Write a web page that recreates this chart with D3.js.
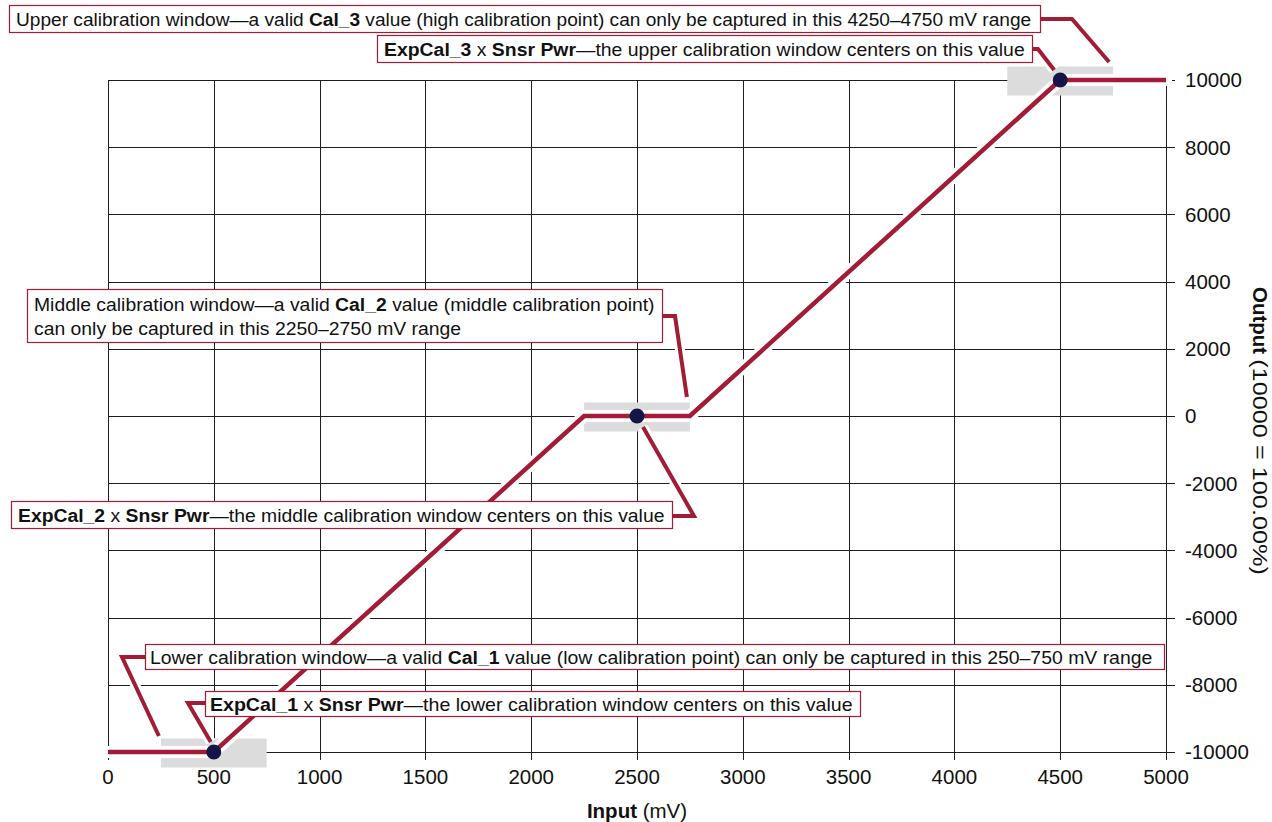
<!DOCTYPE html>
<html>
<head>
<meta charset="utf-8">
<script src="https://cdn.jsdelivr.net/npm/d3@7"></script>
<style>
  body { margin: 0; background: #fff; }
  svg { display: block; font-family: "Liberation Sans", Arial, Helvetica, sans-serif; }
</style>
</head>
<body>
<svg id="chart" width="1272" height="822"></svg>
<script>
// Axis ticks
const inputTicks = [0, 500, 1000, 1500, 2000, 2500, 3000, 3500, 4000, 4500, 5000];
const outputTicks = [-10000, -8000, -6000, -4000, -2000, 0, 2000, 4000, 6000, 8000, 10000];

// Transfer curve: input (mV) -> output counts
const transferInput = [0, 500, 2250, 2750, 4500, 5000];
const transferOutput = [-10000, -10000, 0, 0, 10000, 10000];

// Calibration points (ExpCal_n x Snsr Pwr) and their capture windows
const calInput = [500, 2500, 4500];
const calOutput = [-10000, 0, 10000];
const windowLow = [250, 2250, 4250];
const windowHigh = [750, 2750, 4750];

// Callout texts; **...** marks bold runs
const calloutText = [
  ["Upper calibration window\u2014a valid **Cal_3** value (high calibration point) can only be captured in this 4250\u20134750 mV range"],
  ["**ExpCal_3** x **Snsr Pwr**\u2014the upper calibration window centers on this value"],
  ["Middle calibration window\u2014a valid **Cal_2** value (middle calibration point)",
   "can only be captured in this 2250\u20132750 mV range"],
  ["**ExpCal_2** x **Snsr Pwr**\u2014the middle calibration window centers on this value"],
  ["Lower calibration window\u2014a valid **Cal_1** value (low calibration point) can only be captured in this 250\u2013750 mV range"],
  ["**ExpCal_1** x **Snsr Pwr**\u2014the lower calibration window centers on this value"]
];

const RED = "#a21c36";
const DOT = "#15154a";
const GREY = "#dcdcdc";
const GRID = "#1e1e1e";
const AXIS_FONT = 20.5;

const svg = d3.select("#chart");
const x = d3.scaleLinear().domain([0, 5000]).range([108, 1166]);
const y = d3.scaleLinear().domain([-10000, 10000]).range([752, 80]);
const px = v => Math.round(v) + 0.5;

// Grid + ticks
const grid = svg.append("g").attr("shape-rendering", "crispEdges");
grid.selectAll("line.v").data(inputTicks).join("line")
  .attr("x1", d => px(x(d))).attr("x2", d => px(x(d)))
  .attr("y1", y(10000)).attr("y2", y(-10000) + 8)
  .attr("stroke", GRID).attr("stroke-width", 1);
grid.selectAll("line.h").data(outputTicks).join("line")
  .attr("y1", d => px(y(d))).attr("y2", d => px(y(d)))
  .attr("x1", x(0)).attr("x2", x(5000) + 9)
  .attr("stroke", GRID).attr("stroke-width", 1);

// Tick labels
svg.append("g").selectAll("text").data(inputTicks).join("text")
  .attr("x", d => x(d)).attr("y", 784)
  .attr("text-anchor", "middle").attr("font-size", AXIS_FONT).attr("fill", "#111")
  .text(d => d);
svg.append("g").selectAll("text").data(outputTicks).join("text")
  .attr("x", x(5000) + 19).attr("y", d => y(d))
  .attr("dy", "0.36em").attr("font-size", AXIS_FONT).attr("fill", "#111")
  .text(d => d);

// Axis titles
const xt = svg.append("text").attr("x", 637).attr("y", 818)
  .attr("text-anchor", "middle").attr("font-size", AXIS_FONT).attr("fill", "#111");
xt.append("tspan").attr("font-weight", "bold").text("Input");
xt.append("tspan").text(" (mV)");

// Right-hand title, rotated to read downward
const ytTop = 287, ytBottom = 575, ytX = 1253;
const yt1 = svg.append("text").attr("transform", `translate(${ytX},${ytTop}) rotate(90)`)
  .attr("font-size", AXIS_FONT).attr("font-weight", "bold").attr("fill", "#111")
  .text("Output");
const w1 = yt1.node().getComputedTextLength();
svg.append("text").attr("transform", `translate(${ytX},${ytTop + w1 + 5}) rotate(90)`)
  .attr("font-size", AXIS_FONT).attr("fill", "#111")
  .attr("textLength", ytBottom - ytTop - w1 - 5).attr("lengthAdjust", "spacingAndGlyphs")
  .text("(10000 = 100.00%)");

// Calibration windows (grey bands)
const winH = 29;
svg.append("g").selectAll("rect").data(calOutput).join("rect")
  .attr("x", (d, i) => x(windowLow[i]))
  .attr("width", (d, i) => x(windowHigh[i]) - x(windowLow[i]))
  .attr("y", d => y(d) - 13.5).attr("height", winH)
  .attr("fill", GREY);

// Transfer curve with white casing
const pts = transferInput.map((v, i) => [x(v), y(transferOutput[i])]);
const line = d3.line();
svg.append("path").attr("d", line(pts)).attr("fill", "none")
  .attr("stroke", "#fff").attr("stroke-width", 12).attr("stroke-linecap", "square");
svg.append("path").attr("d", line(pts)).attr("fill", "none")
  .attr("stroke", RED).attr("stroke-width", 4.5);

// Callout boxes: [left, top, width, height, text start, text end, first baseline]
const boxes = [
  [9, 5, 1031, 27, 16, 1032, 25.5],
  [377, 35, 655, 27, 384, 1025, 55.5],
  [27, 289, 635, 53, 34, 655, 310.5],
  [11, 501, 661, 27, 18, 665, 521.5],
  [145, 644, 1019, 25, 150, 1153, 663.5],
  [205, 691, 655, 25, 210, 853, 710.5]
];

// Leader lines from boxes to windows/points
const leaders = [
  [[1040, 19], [1072, 19], [x(windowHigh[2]) - 4, y(calOutput[2]) - 18]],
  [[1032, 49], [1038, 49], [x(calInput[2]) - 6, y(calOutput[2]) - 10]],
  [[662, 316], [675, 316], [x(windowHigh[1]) - 3, y(calOutput[1]) - 19]],
  [[672, 516], [694, 516], [x(calInput[1]) + 6, y(calOutput[1]) + 11]],
  [[145, 657], [122, 657], [x(windowLow[0]) - 2, y(calOutput[0]) - 16]],
  [[205, 703], [188, 703], [x(calInput[0]) - 3, y(calOutput[0]) - 10]]
];
const lg = svg.append("g");
leaders.forEach(p => {
  lg.append("path").attr("d", line(p)).attr("fill", "none")
    .attr("stroke", "#fff").attr("stroke-width", 10).attr("stroke-linejoin", "miter");
});
leaders.forEach(p => {
  lg.append("path").attr("d", line(p)).attr("fill", "none")
    .attr("stroke", RED).attr("stroke-width", 4).attr("stroke-linejoin", "miter");
});

// Calibration point markers
svg.append("g").selectAll("circle").data(calInput).join("circle")
  .attr("cx", d => x(d)).attr("cy", (d, i) => y(calOutput[i]))
  .attr("r", 7.5).attr("fill", DOT);

// Boxes with text
const bg = svg.append("g");
boxes.forEach((b, i) => {
  const [bx, by, bw, bh, ts, te, base] = b;
  bg.append("rect").attr("x", bx + 0.5).attr("y", by + 0.5)
    .attr("width", bw).attr("height", bh)
    .attr("fill", "#fff").attr("stroke", RED).attr("stroke-width", 1.2);
  let scale = null;
  calloutText[i].forEach((ln, j) => {
    const t = bg.append("text").attr("font-size", 18.5).attr("fill", "#111")
      .attr("x", 0).attr("y", 0);
    ln.split("**").forEach((part, k) => {
      if (!part) return;
      t.append("tspan").attr("font-weight", k % 2 ? "bold" : "normal").text(part);
    });
    if (scale === null) scale = (te - ts) / t.node().getComputedTextLength();
    t.attr("transform", `translate(${ts},${base + j * 24}) scale(${scale},1)`);
  });
});
</script>
</body>
</html>
